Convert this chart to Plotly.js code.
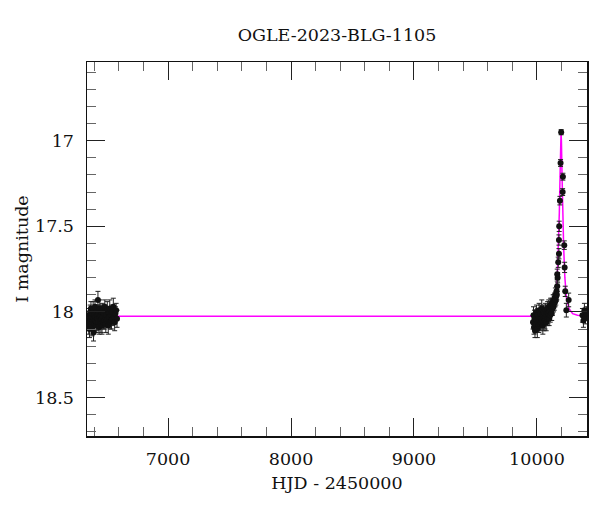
<!DOCTYPE html>
<html>
<head>
<meta charset="utf-8">
<script src="https://cdn.plot.ly/plotly-3.0.1.min.js"></script>
<style>html,body{margin:0;padding:0;background:#fff}#chart{width:600px;height:512px}</style>
</head>
<body>
<div id="chart"></div>
<script>
// Observed photometry: early season (HJD - 2450000)
const tEarly = [6352,6355,6358,6361,6364,6367,6370,6373,6376,6379,6382,6385,6388,6391,6394,6397,6400,6403,6406,6409,6412,6415,6418,6421,6424,6427,6430,6433,6436,6439,6442,6445,6448,6451,6454,6457,6460,6463,6466,6470,6474,6478,6482,6486,6490,6494,6498,6502,6506,6510,6514,6518,6522,6526,6530,6535,6540,6545,6550,6555,6560,6566,6572,6578,6585];
const magEarly = [18.05,18.08,18.02,18.10,18.06,18.00,18.04,17.98,18.07,18.03,18.09,18.01,18.05,17.99,18.12,18.04,18.02,18.07,17.97,18.05,18.03,18.08,18.00,18.06,18.02,18.04,17.93,18.06,18.01,18.09,18.03,17.98,18.05,18.02,18.07,18.00,18.04,18.08,17.99,18.03,18.06,18.01,18.05,17.97,18.03,18.07,18.02,18.05,17.99,18.04,18.08,18.01,18.03,17.98,18.06,18.02,18.05,18.00,18.04,17.97,18.03,18.06,18.01,17.99,18.04];
const errEarly = [0.04,0.05,0.04,0.05,0.04,0.04,0.05,0.04,0.04,0.05,0.05,0.04,0.04,0.05,0.05,0.04,0.04,0.05,0.04,0.04,0.05,0.04,0.04,0.05,0.04,0.04,0.05,0.04,0.05,0.04,0.04,0.05,0.04,0.04,0.05,0.04,0.04,0.05,0.04,0.05,0.04,0.04,0.05,0.04,0.04,0.05,0.04,0.04,0.05,0.04,0.05,0.04,0.04,0.05,0.04,0.04,0.05,0.04,0.04,0.05,0.04,0.05,0.04,0.04,0.05];

// Observed photometry: event season
const tLate = [9968,9972,9976,9980,9984,9988,9992,9996,10000,10003,10006,10009,10012,10015,10018,10021,10024,10027,10030,10033,10036,10039,10042,10045,10048,10051,10054,10057,10060,10063,10066,10069,10072,10075,10078,10081,10084,10087,10090,10093,10096,10099,10102,10105,10108,10111,10114,10117,10120,10123,10126,10129,10132,10135,10138,10141,10144,10147,10150,10153,10156,10159,10162,10165,10165,10168,10173,10179,10179,10181,10187,10192,10197,10209,10211,10222,10225,10230,10239,10258,10370,10378,10386,10394,10402];
const magLate = [18.06,18.02,18.09,18.04,18.11,18.03,18.07,18.00,18.05,18.10,18.02,18.06,18.04,18.08,17.99,18.05,18.03,18.07,18.01,18.06,18.04,17.98,18.05,18.02,18.08,18.03,18.00,18.06,18.04,18.01,18.05,17.99,18.03,18.06,18.02,18.00,18.04,17.98,18.03,18.01,17.97,18.04,18.00,17.98,18.02,17.96,17.99,17.97,18.01,17.95,17.98,17.96,17.94,17.97,17.93,17.95,17.92,17.94,17.90,17.93,17.91,17.88,17.90,17.85,17.78,17.80,17.71,17.66,17.58,17.50,17.35,17.13,16.95,17.30,17.21,17.61,17.74,17.88,17.99,17.93,18.02,18.05,17.99,18.03,18.01];
const errLate = [0.04,0.05,0.04,0.05,0.04,0.04,0.05,0.04,0.04,0.05,0.04,0.04,0.05,0.04,0.04,0.05,0.04,0.04,0.05,0.04,0.04,0.05,0.04,0.04,0.05,0.04,0.04,0.05,0.04,0.04,0.05,0.04,0.04,0.05,0.04,0.04,0.04,0.04,0.04,0.04,0.04,0.04,0.04,0.04,0.04,0.04,0.03,0.04,0.04,0.03,0.04,0.03,0.04,0.03,0.03,0.04,0.03,0.03,0.04,0.03,0.03,0.03,0.03,0.03,0.03,0.03,0.03,0.03,0.03,0.03,0.025,0.02,0.015,0.02,0.02,0.025,0.03,0.03,0.04,0.04,0.04,0.04,0.04,0.04,0.04];

// Model light curve
const tModel = [6341,9900,10060,10100,10120,10140,10155,10165,10175,10182,10188,10193,10196,10199,10204,10210,10217,10227,10240,10260,10290,10330,10407];
const magModel = [18.025,18.025,18.025,18.015,18.00,17.97,17.90,17.80,17.62,17.42,17.20,17.00,16.95,17.00,17.20,17.42,17.62,17.80,17.92,17.98,18.01,18.02,18.025];

const titleText = 'OGLE-2023-BLG-1105';
const xTitle = 'HJD - 2450000';
const yTitle = 'I magnitude';

const FONT = 'DejaVu Serif, serif';
const FS = 17.5;

const errStyle = {type: 'data', visible: true, color: '#222', thickness: 1, width: 2.5};
const traces = [
  {x: tModel, y: magModel, mode: 'lines', line: {color: '#ff00ff', width: 1.5}, hoverinfo: 'skip', showlegend: false},
  {x: tEarly, y: magEarly, mode: 'markers', marker: {color: '#111', size: 6},
   error_y: Object.assign({array: errEarly}, errStyle), showlegend: false},
  {x: tLate, y: magLate, mode: 'markers', marker: {color: '#111', size: 6},
   error_y: Object.assign({array: errLate}, errStyle), showlegend: false}
];

const layout = {
  width: 600, height: 512,
  margin: {l: 87, r: 13, t: 62, b: 76},
  paper_bgcolor: '#fff', plot_bgcolor: '#fff',
  font: {family: FONT, size: FS, color: '#111'},
  title: {text: titleText, font: {family: FONT, size: FS, color: '#111'}, x: 0.5, xref: 'paper', y: 1 - 35/512, yref: 'container', yanchor: 'middle'},
  xaxis: {
    range: [6341, 10407], showgrid: false, zeroline: false,
    showline: true, linecolor: '#111', linewidth: 1.5, mirror: 'ticks',
    ticks: 'inside', ticklen: 18, tickwidth: 1, tickcolor: '#222',
    tick0: 7000, dtick: 1000, tickformat: 'd', ticklabelstandoff: 6,
    minor: {dtick: 200, tick0: 6400, ticks: 'inside', ticklen: 9, tickwidth: 1, tickcolor: '#666'},
    title: {text: xTitle, font: {family: FONT, size: FS, color: '#111'}, standoff: 9}
  },
  yaxis: {
    range: [18.725, 16.54], showgrid: false, zeroline: false,
    showline: true, linecolor: '#111', linewidth: 1.5, mirror: 'ticks',
    ticks: 'inside', ticklen: 18, tickwidth: 1, tickcolor: '#222',
    tick0: 17, dtick: 0.5, ticklabelstandoff: 8,
    minor: {dtick: 0.1, tick0: 17, ticks: 'inside', ticklen: 9, tickwidth: 1, tickcolor: '#666'},
    title: {text: yTitle, font: {family: FONT, size: FS, color: '#111'}, standoff: 2}
  }
};

Plotly.newPlot('chart', traces, layout, {displayModeBar: false, staticPlot: true});
</script>
</body>
</html>
